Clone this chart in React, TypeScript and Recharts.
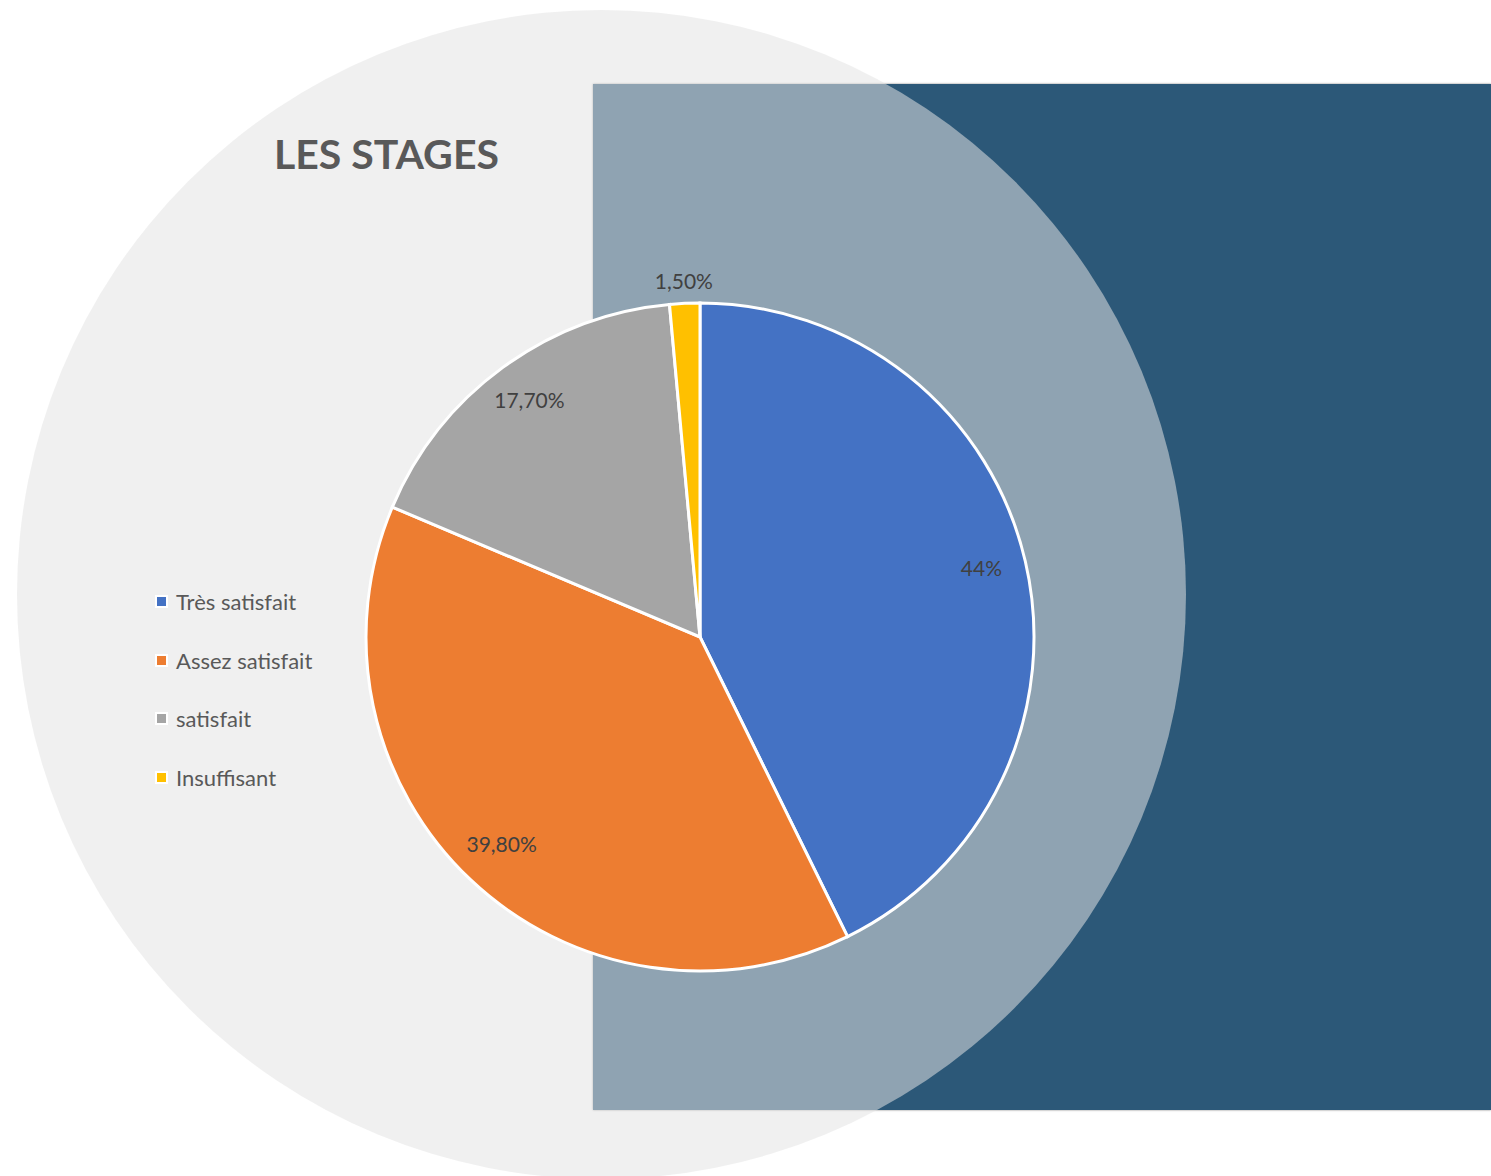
import { Pie, PieChart, Cell } from 'recharts';

const categories = ['Très satisfait', 'Assez satisfait', 'satisfait', 'Insuffisant'];
const values = [44, 39.8, 17.7, 1.5];
const valueLabels = ['44%', '39,80%', '17,70%', '1,50%'];
const colors = ['#4472c4', '#ed7d31', '#a5a5a5', '#ffc000'];

const W = 1491;
const H = 1176;
const FONT = 'Lato, "Open Sans", sans-serif';

const data = categories.map((name, i) => ({ name, value: values[i], label: valueLabels[i] }));

const RAD = Math.PI / 180;

function renderLabel(props: any) {
  const { cx, cy, midAngle, outerRadius, index } = props;
  // small slice sits outside, others inside (Excel best fit)
  const r = values[index] < 5 ? outerRadius + 19 : outerRadius - 45;
  const x = cx + r * Math.cos(-midAngle * RAD);
  const y = cy + r * Math.sin(-midAngle * RAD);
  return (
    <text
      x={x}
      y={y - 4}
      fill="#404040"
      fontSize={21}
      fontFamily={FONT}
      textAnchor="middle"
      dominantBaseline="central"
    >
      {valueLabels[index]}
    </text>
  );
}

function LegendBox() {
  return (
    <div style={{ position: 'absolute', left: 155, top: 572, fontFamily: FONT }}>
      {categories.map((c, i) => (
        <div
          key={c}
          style={{ display: 'flex', alignItems: 'center', height: 58.7, color: '#595959', fontSize: 22 }}
        >
          <span
            style={{
              width: 9,
              height: 9,
              background: colors[i],
              border: '2px solid #fff',
              marginRight: 8,
              display: 'inline-block',
            }}
          />
          {c}
        </div>
      ))}
    </div>
  );
}

export default function App() {
  return (
    <div style={{ position: 'absolute', left: 0, top: 0, width: W, height: H, background: '#fff', overflow: 'hidden' }}>
      <div
        style={{
          position: 'absolute',
          left: 593,
          top: 84,
          width: W - 593,
          height: 1026,
          background: '#2c5878',
          boxShadow: '0 0 2px rgba(0,0,0,0.5)',
        }}
      />
      <div
        style={{
          position: 'absolute',
          left: 17,
          top: 10,
          width: 1169,
          height: 1169,
          borderRadius: '50%',
          background: 'rgba(227,227,227,0.54)',
        }}
      />
      <div
        style={{
          position: 'absolute',
          left: 274,
          top: 128,
          fontFamily: FONT,
          fontWeight: 700,
          fontSize: 41,
          color: '#595959',
          lineHeight: '52px',
        }}
      >
        LES STAGES
      </div>
      <LegendBox />
      <div style={{ position: 'absolute', left: 0, top: 0 }}>
        <PieChart width={W} height={H} margin={{ top: 0, right: 0, bottom: 0, left: 0 }}>
          <Pie
            data={data}
            dataKey="value"
            nameKey="name"
            cx={700}
            cy={637}
            outerRadius={334}
            startAngle={90}
            endAngle={-270}
            stroke="#fff"
            strokeWidth={3}
            label={renderLabel}
            labelLine={false}
            isAnimationActive={false}
          >
            {data.map((d, i) => (
              <Cell key={d.name} fill={colors[i]} />
            ))}
          </Pie>
        </PieChart>
      </div>
    </div>
  );
}
